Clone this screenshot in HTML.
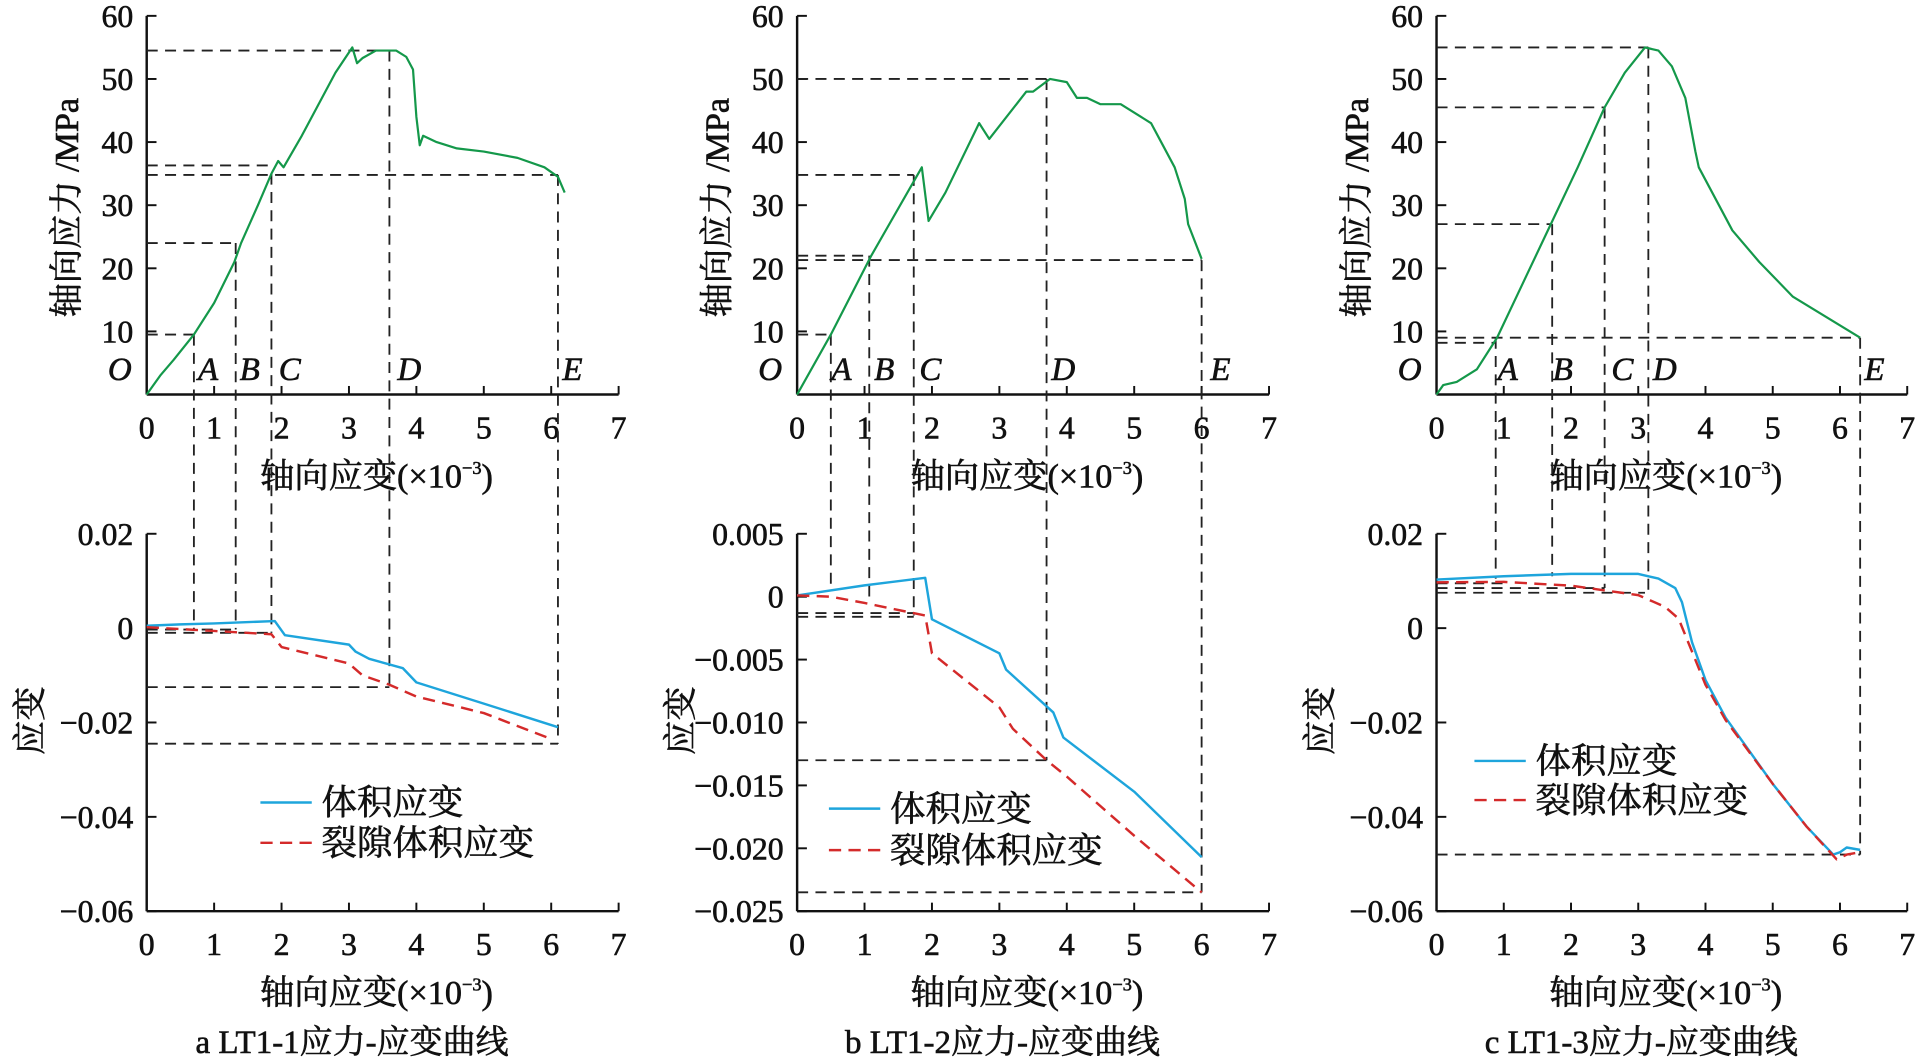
<!DOCTYPE html><html><head><meta charset="utf-8"><style>
html,body{margin:0;padding:0;background:#fff;overflow:hidden}
svg{display:block}
text{font-family:"Liberation Serif","Noto Serif CJK SC",serif;fill:#111}
.b{stroke:#111;stroke-width:0.5}
</style></head><body>
<svg id="s" width="1917" height="1059" viewBox="0 0 1568 867" preserveAspectRatio="none" xmlns="http://www.w3.org/2000/svg"></svg>
<script>
const S=document.getElementById('s');let h='';
const G='#14984a',B='#1ea5dc',R='#d42a2a';
function P(p){const ux=(p.x7-p.x0)/7;
 const X=v=>p.x0+v*ux, YT=v=>323-v*5.167, YB=v=>p.b0-v*p.bs;
 p.X=X;p.YT=YT;p.YB=YB;return p;}
function line(x1,y1,x2,y2,st,w,d){h+=`<line x1="${x1}" y1="${y1}" x2="${x2}" y2="${y2}" stroke="${st}" stroke-width="${w}" ${d?'stroke-dasharray="'+d+'"':''}/>`}
function poly(pts,st,w,d){h+=`<polyline fill="none" stroke="${st}" stroke-width="${w}" stroke-linejoin="round" ${d?'stroke-dasharray="'+d+'"':''} points="${pts.map(q=>q.join(',')).join(' ')}"/>`}
function txt(x,y,s,sz,anc,extra){h+=`<text class="b" x="${x}" y="${y}" font-size="${sz}" text-anchor="${anc||'middle'}" ${extra||''}>${s}</text>`}
function axes(p,top,ylabs,yvals){
 const y0=top?323:746, yt=top?13:437;
 line(p.x0,yt,p.x0,y0,'#111',2);line(p.x0,y0,p.x7,y0,'#111',2);
 for(let i=1;i<=7;i++){line(p.X(i),y0,p.X(i),y0-7,'#111',1.6);}
 for(let i=0;i<=7;i++)txt(p.X(i),y0+36,i,26);
 yvals.forEach((v,k)=>{const y=top?p.YT(v):p.YB(v);line(p.x0,y,p.x0+8,y,'#111',1.6);txt(p.x0-11,y+9,ylabs[k],26,'end');});
 txt((p.x0+p.x7)/2-5,y0+76,'轴向应变(×10<tspan font-size="15" dy="-11">−3</tspan><tspan dy="11">)</tspan>',28);
}
function run(p){
 const X=p.X,YT=p.YT,YB=p.YB,D='9,6';
 axes(p,true,['60','50','40','30','20','10'],[60,50,40,30,20,10]);
 axes(p,false,p.bl,p.bv);
 p.th.forEach(a=>line(p.x0,YT(a[0]),X(a[1]),YT(a[0]),'#222',1.5,D));
 p.vt.forEach(a=>line(X(a[0]),YT(a[1]),X(a[0]),YB(a[2]),'#222',1.5,D));
 p.bh.forEach(a=>line(p.x0,YB(a[0]),X(a[1]),YB(a[0]),'#222',1.5,D));
 poly(p.top.map(q=>[X(q[0]),YT(q[1])]),G,1.8);
 poly(p.blue.map(q=>[X(q[0]),YB(q[1])]),B,2);
 poly(p.red.map(q=>[X(q[0]),YB(q[1])]),R,2,'10,6');
 txt(p.x0-22,311,'O',27,'middle','font-style="italic"');
 p.let.forEach((l,i)=>txt(l[1],311,l[0],27,'start','font-style="italic"'));
 txt(p.x0-65,170,'轴向应力 /MPa',28,'middle',`transform="rotate(-90 ${p.x0-65} 170)" dy="9"`);
 txt(p.x0-95,590,'应变',28,'middle',`transform="rotate(-90 ${p.x0-95} 590)" dy="9"`);
 const L=p.leg;line(L[0],L[1],L[0]+42,L[1],B,2);line(L[0],L[2],L[0]+42,L[2],R,2,'10,6');
 txt(L[0]+50,L[1]+10,'体积应变',29,'start');txt(L[0]+50,L[2]+10,'裂隙体积应变',29,'start');
 txt((p.x0+p.x7)/2-25,862,p.cap,27);
}
run(P({x0:120,x7:506,b0:514.25,bs:3862.5,bl:['0.02','0','−0.02','−0.04','−0.06'],bv:[0.02,0,-0.02,-0.04,-0.06],
 top:[[0,0],[0.2,3],[0.4,5.5],[0.7,9.5],[1,14.5],[1.3,21],[1.4,24],[1.65,30],[1.85,35],[1.95,37],[2.03,36],[2.3,41],[2.6,47],[2.8,51],[3.05,55],[3.12,52.5],[3.2,53.3],[3.4,54.5],[3.7,54.5],[3.85,53.5],[3.95,51.5],[4.0,44],[4.05,39.5],[4.1,41],[4.3,40],[4.6,39],[5,38.5],[5.5,37.5],[5.9,36],[6.1,34.5],[6.2,32]],
 th:[[9.5,0.7],[24,1.32],[36.3,1.85],[34.8,6.1],[54.5,3.6]],
 vt:[[0.7,9.5,-0.0003],[1.32,24,-0.0003],[1.85,35,-0.001],[3.6,54.5,-0.0125],[6.1,34.8,-0.0245]],
 bh:[[-0.0003,1.32],[-0.001,1.85],[-0.0125,3.6],[-0.0245,6.1]],
 blue:[[0,0.0005],[0.5,0.0008],[1,0.001],[1.9,0.0015],[2.05,-0.0015],[3,-0.0035],[3.1,-0.005],[3.3,-0.0065],[3.8,-0.0085],[4,-0.0115],[5,-0.016],[6.1,-0.021]],
 red:[[0,0.0002],[1,-0.0006],[1.85,-0.0013],[2.0,-0.004],[3,-0.0075],[3.2,-0.010],[3.6,-0.012],[4,-0.0145],[5,-0.018],[6,-0.0235]],
 let:[['A',162],['B',196],['C',228],['D',325],['E',460]],leg:[213,657,690],cap:'a  LT1-1应力-应变曲线'}));
run(P({x0:652,x7:1038,b0:488.5,bs:10300,bl:['0.005','0','−0.005','−0.010','−0.015','−0.020','−0.025'],bv:[0.005,0,-0.005,-0.01,-0.015,-0.02,-0.025],
 top:[[0,0],[0.5,9.5],[1.1,22],[1.85,36],[1.95,27.5],[2.2,32],[2.7,43],[2.85,40.5],[3.4,48],[3.5,48],[3.75,50],[4,49.5],[4.15,47],[4.3,47],[4.5,46],[4.8,46],[5.1,44],[5.25,43],[5.4,40],[5.6,36],[5.75,31],[5.8,27],[6,21.5]],
 th:[[9.5,0.5],[22,1.07],[21.3,6],[34.8,1.73],[50,3.7]],
 vt:[[0.5,9.5,0.0005],[1.07,22,-0.0005],[1.73,34.8,-0.0015],[3.7,50,-0.013],[6,21.3,-0.0235]],
 bh:[[-0.0013,1.73],[-0.0016,1.73],[-0.013,3.7],[-0.0235,6]],
 blue:[[0,0.0001],[1,0.0009],[1.9,0.0015],[2,-0.0018],[3,-0.0045],[3.1,-0.0058],[3.8,-0.0092],[3.95,-0.0112],[5,-0.0155],[6,-0.0207]],
 red:[[0,0.0001],[0.5,0],[1,-0.0005],[1.9,-0.0015],[2,-0.0045],[3,-0.0088],[3.2,-0.0105],[3.7,-0.013],[4,-0.0143],[5,-0.019],[6,-0.0235]],
 let:[['A',680],['B',715],['C',752],['D',860],['E',990]],leg:[678,662,696],cap:'b  LT1-2应力-应变曲线'}));
run(P({x0:1175,x7:1560,b0:514.25,bs:3862.5,bl:['0.02','0','−0.02','−0.04','−0.06'],bv:[0.02,0,-0.02,-0.04,-0.06],
 top:[[0,0],[0.1,1.5],[0.3,2],[0.6,4],[0.9,9],[1.3,18],[1.7,27],[2.1,36],[2.5,45.5],[2.8,51],[3.1,55],[3.3,54.5],[3.5,52],[3.7,47],[3.85,38.5],[3.9,36],[4.0,34],[4.4,26],[4.8,21],[5.3,15.5],[6.3,9]],
 th:[[9,6.3],[8.2,0.88],[27,1.72],[45.5,2.5],[55,3.15]],
 vt:[[0.88,9,0.0105],[1.72,27,0.011],[2.5,45.5,0.0085],[3.15,55,0.007],[6.3,9,-0.048]],
 bh:[[0.0095,1],[0.0085,2.5],[0.0075,3.1],[-0.048,6.3]],
 blue:[[0,0.0103],[1,0.011],[2,0.0115],[3,0.0115],[3.3,0.0105],[3.55,0.0085],[3.65,0.0055],[3.8,-0.003],[4,-0.011],[4.3,-0.019],[5,-0.033],[5.5,-0.042],[5.9,-0.048],[6.0,-0.0475],[6.1,-0.0465],[6.3,-0.047]],
 red:[[0,0.0097],[1,0.0098],[2,0.009],[3,0.007],[3.4,0.0045],[3.6,0.002],[3.8,-0.005],[4,-0.012],[4.3,-0.0195],[5,-0.033],[5.5,-0.042],[5.95,-0.049],[6.1,-0.048],[6.3,-0.0475]],
 let:[['A',1225],['B',1270],['C',1318],['D',1352],['E',1525]],leg:[1206,623,655],cap:'c  LT1-3应力-应变曲线'}));
S.innerHTML=h;
</script></body></html>
